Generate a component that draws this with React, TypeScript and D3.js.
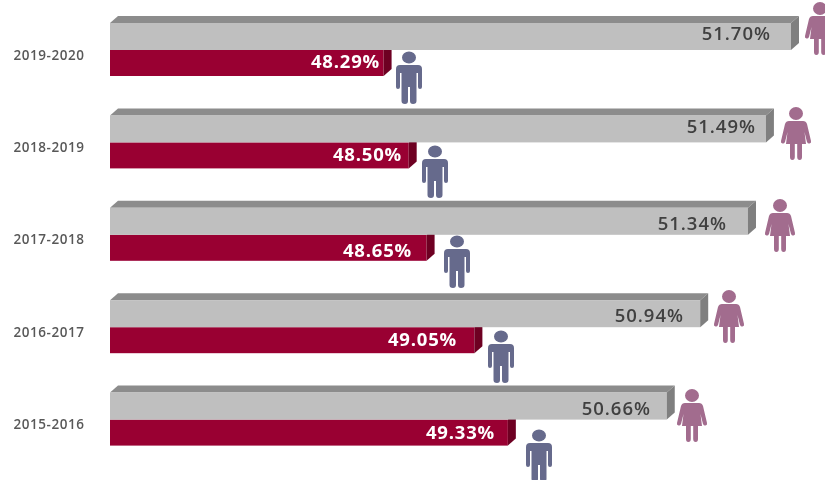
import React from "react";
import * as d3 from "d3";

const years = ["2019-2020", "2018-2019", "2017-2018", "2016-2017", "2015-2016"];
const female = [51.7, 51.49, 51.34, 50.94, 50.66];
const male = [48.29, 48.5, 48.65, 49.05, 49.33];

// Icon and label placement (layout only)
const womanCx = [820, 796, 780, 729, 692];
const womanTop = [2, 107, 199, 290, 389];
const manCx = [409, 435, 457, 501, 539];
const manTop = [51, 145, 235, 330, 429];
const femaleLabelRight = [771, 756, 727, 684, 651];
const femaleLabelY = [35, 128, 225, 317, 410];
const maleLabelRight = [380, 402, 412, 457, 495];
const maleLabelY = [63, 156, 252, 341, 434];
const yearLabelY = [56, 148, 240, 333, 425];

const W = 825;
const H = 480;
const depth = 8;
const x = d3.scaleLinear().domain([46, 51.7]).range([110, 791]);
const y = d3.scaleBand<string>().domain(years).range([16, 478]).paddingInner(0).paddingOuter(0);

function Man({ cx, top }: { cx: number; top: number }) {
  return (
    <g transform={`translate(${cx},${top})`} fill="#666a8c">
      <ellipse cx={0} cy={6.5} rx={7} ry={6} />
      <path d="M-9,14 Q-13,14 -13,18 V36 Q-13,38 -11,38 Q-9,38 -9,36 V22 H-7.5 V50 Q-7.5,53 -4,53 Q-1,53 -1,50 V36 H1 V50 Q1,53 4,53 Q7.5,53 7.5,50 V22 H9 V36 Q9,38 11,38 Q13,38 13,36 V18 Q13,14 9,14 Z" />
    </g>
  );
}

function Woman({ cx, top }: { cx: number; top: number }) {
  return (
    <g transform={`translate(${cx},${top})`} fill="#a26c8e">
      <ellipse cx={0} cy={6.5} rx={7} ry={6.5} />
      <path d="M-7,14 Q-10,14 -11,17 L-15,34 Q-15.5,36 -13.5,36.5 Q-12,37 -11,35 L-8.5,25 L-10,37 H-6 V50 Q-6,53 -3.7,53 Q-1.2,53 -1.2,50 V37 H1.2 V50 Q1.2,53 3.7,53 Q6,53 6,50 V37 H10 L8.5,25 L11,35 Q12,37 13.5,36.5 Q15.5,36 15,34 L11,17 Q10,14 7,14 Z" />
    </g>
  );
}

function Bar({
  x1, top, h, front, topFace, side, showTop,
}: {
  x1: number; top: number; h: number; front: string; topFace: string; side: string; showTop: boolean;
}) {
  const x0 = x.range()[0];
  return (
    <g>
      {showTop && (
        <polygon
          points={`${x0},${top} ${x0 + depth},${top - 7} ${x1 + depth},${top - 7} ${x1},${top}`}
          fill={topFace}
        />
      )}
      <rect x={x0} y={top} width={x1 - x0} height={h} fill={front} />
      <polygon
        points={`${x1},${top} ${x1 + depth},${top - 7} ${x1 + depth},${top + h - 7} ${x1},${top + h}`}
        fill={side}
      />
    </g>
  );
}

export default function App() {
  const font = "'Open Sans', sans-serif";
  return (
    <svg
      width={W}
      height={H}
      viewBox={`0 0 ${W} ${H}`}
      style={{ position: "absolute", left: 0, top: 0, display: "block", background: "#fff" }}
    >
      <defs>
        <filter id="soft" x="0" y="0" width="100%" height="100%">
          <feGaussianBlur stdDeviation="0.45" />
        </filter>
      </defs>
      <g filter="url(#soft)">
        {years.map((yr, i) => {
          const t = (y(yr) as number) + 7;
          const xf = x(female[i]);
          const xm = x(male[i]);
          return (
            <g key={yr}>
              <text x={49} y={yearLabelY[i]} textAnchor="middle" dominantBaseline="middle"
                fontFamily={font} fontSize={13.5} fontWeight={600} letterSpacing={0.55} fill="#595959">
                {yr}
              </text>
              <Bar x1={xm} top={t + 27} h={26} front="#990033" topFace="#7a0028" side="#6e0024" showTop={false} />
              <Bar x1={xf} top={t} h={27} front="#bfbfbf" topFace="#8c8c8c" side="#7f7f7f" showTop={true} />
              <text x={femaleLabelRight[i]} y={femaleLabelY[i]} textAnchor="end" dominantBaseline="middle"
                fontFamily={font} fontSize={18.5} fontWeight={600} letterSpacing={1} fill="#404040">
                {female[i].toFixed(2)}%
              </text>
              <text x={maleLabelRight[i]} y={maleLabelY[i]} textAnchor="end" dominantBaseline="middle"
                fontFamily={font} fontSize={18.5} fontWeight={700} letterSpacing={0.8} fill="#ffffff">
                {male[i].toFixed(2)}%
              </text>
              <Woman cx={womanCx[i]} top={womanTop[i]} />
              <Man cx={manCx[i]} top={manTop[i]} />
            </g>
          );
        })}
      </g>
    </svg>
  );
}
